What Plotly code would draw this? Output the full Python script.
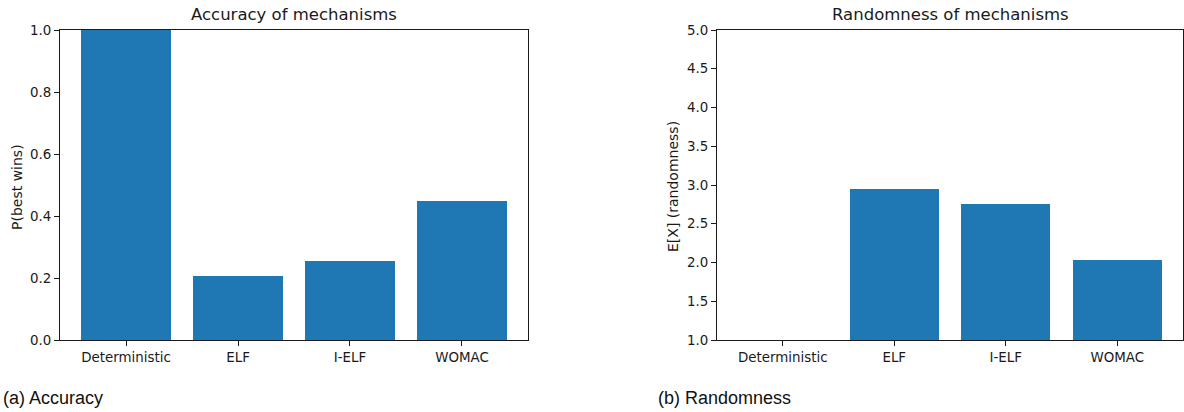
import plotly.graph_objects as go

categories = ["Deterministic", "ELF", "I-ELF", "WOMAC"]
accuracy = [1.0, 0.207, 0.255, 0.450]
randomness = [1.0, 2.95, 2.75, 2.03]
acc_ticks = [0.0, 0.2, 0.4, 0.6, 0.8, 1.0]
rand_ticks = [1.0, 1.5, 2.0, 2.5, 3.0, 3.5, 4.0, 4.5, 5.0]

W, H = 1184, 412
BLUE = "#1f77b4"
FONT = "DejaVu Sans"
INK = "#1a1a1a"

def fx(px):
    return px / W

def fy(py):
    return 1 - py / H

fig = go.Figure()
fig.add_trace(go.Bar(x=categories, y=accuracy, width=0.8, marker=dict(color=BLUE, line=dict(width=0)),
                     xaxis="x", yaxis="y", showlegend=False))
fig.add_trace(go.Bar(x=categories, y=randomness, width=0.8, marker=dict(color=BLUE, line=dict(width=0)),
                     xaxis="x2", yaxis="y2", showlegend=False))

axis_common = dict(showline=True, linecolor=INK, linewidth=1, mirror=True,
                   ticks="outside", ticklen=5, tickcolor=INK, tickwidth=1,
                   showgrid=False, zeroline=False, automargin=False,
                   tickfont=dict(family=FONT, size=13.4, color=INK))

fig.update_layout(
    width=W, height=H,
    margin=dict(l=0, r=0, t=0, b=0, autoexpand=False),
    paper_bgcolor="white", plot_bgcolor="white",
    bargap=0,
    xaxis=dict(domain=[fx(60), fx(528)], anchor="y", range=[-0.59, 3.59], **axis_common),
    yaxis=dict(domain=[fy(340), fy(30)], anchor="x", range=[0, 1.0],
               tickvals=acc_ticks, tickformat=".1f", **axis_common),
    xaxis2=dict(domain=[fx(717), fx(1183)], anchor="y2", range=[-0.59, 3.59], **axis_common),
    yaxis2=dict(domain=[fy(340), fy(30)], anchor="x2", range=[1.0, 5.0],
                tickvals=rand_ticks, tickformat=".1f", **axis_common),
)

ann = [
    dict(text="Accuracy of mechanisms", x=fx(294), y=fy(15), xanchor="center", yanchor="middle",
         font=dict(family=FONT, size=16.5, color=INK)),
    dict(text="Randomness of mechanisms", x=fx(950), y=fy(15), xanchor="center", yanchor="middle",
         font=dict(family=FONT, size=16.5, color=INK)),
    dict(text="P(best wins)", x=fx(17), y=fy(187), xanchor="center", yanchor="middle", textangle=-90,
         font=dict(family=FONT, size=14, color=INK)),
    dict(text="E[X] (randomness)", x=fx(673), y=fy(187), xanchor="center", yanchor="middle", textangle=-90,
         font=dict(family=FONT, size=14, color=INK)),
    dict(text="(a) Accuracy", x=fx(1), y=fy(398), xanchor="left", yanchor="middle",
         font=dict(family="Liberation Sans", size=18, color="#111")),
    dict(text="(b) Randomness", x=fx(656), y=fy(398), xanchor="left", yanchor="middle",
         font=dict(family="Liberation Sans", size=18, color="#111")),
]
for a in ann:
    a.update(xref="paper", yref="paper", showarrow=False)
fig.update_layout(annotations=ann)

fig.write_html("out.html")
